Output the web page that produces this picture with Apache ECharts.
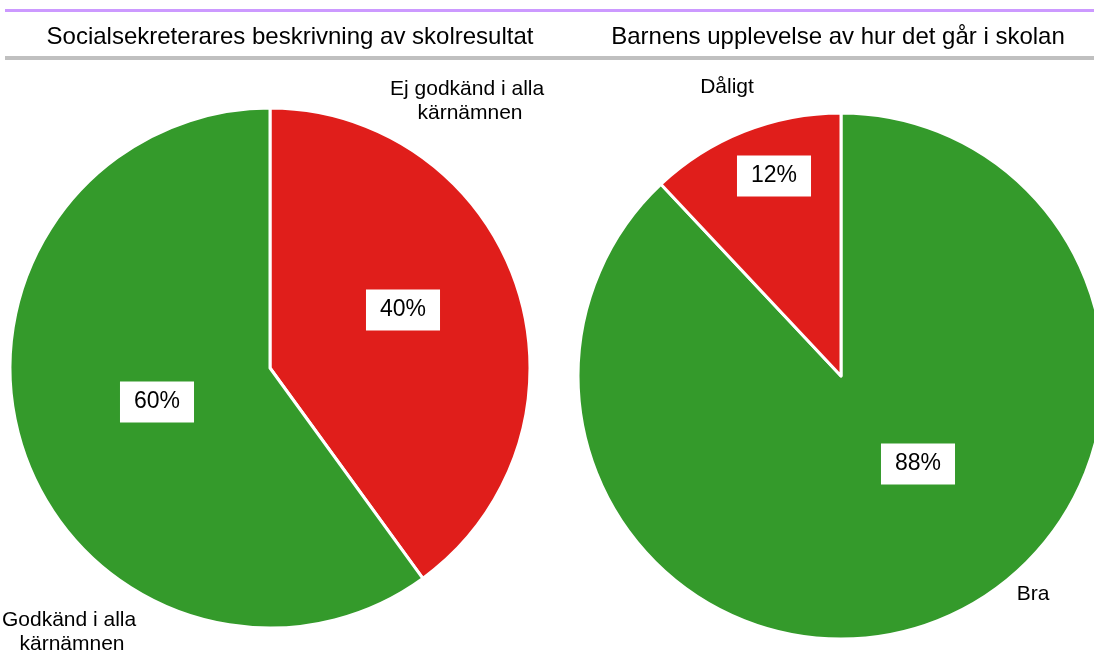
<!DOCTYPE html>
<html>
<head>
<meta charset="utf-8">
<script src="https://cdn.jsdelivr.net/npm/echarts@6/dist/echarts.min.js"></script>
<style>
html,body{margin:0;padding:0;background:#fff;}
#chart{width:1094px;height:666px;}
</style>
</head>
<body>
<div id="chart"></div>
<script>
// ---- data ----
var titles = ['Socialsekreterares beskrivning av skolresultat', 'Barnens upplevelse av hur det går i skolan'];
var leftCategories = ['Ej godkänd i alla kärnämnen', 'Godkänd i alla kärnämnen'];
var leftValues = [40, 60];
var rightCategories = ['Bra', 'Dåligt'];
var rightValues = [88, 12];

// ---- styles / layout ----
var GREEN = '#349a2b', RED = '#e01e1b';
var FONT = 'Liberation Sans, Arial, sans-serif';
var leftColors = [RED, GREEN];
var rightColors = [GREEN, RED];
var pctPos = { left: [[403, 310], [157, 402]], right: [[918, 464], [774, 176]] };
var namePos = { left: [[470, 101], [72, 632]], right: [[1033, 594], [727, 87]] };

function pieData(cats, vals, colors) {
  return cats.map(function (c, i) { return { name: c, value: vals[i], itemStyle: { color: colors[i] } }; });
}
function pctSeries(cats, vals, colors, center, r, key) {
  return {
    type: 'pie', center: center, radius: r, startAngle: 90, clockwise: true,
    avoidLabelOverlap: false, silent: true,
    itemStyle: { borderColor: '#fff', borderWidth: 3 },
    data: pieData(cats, vals, colors),
    label: {
      show: true, position: 'inside', formatter: '{c}%',
      fontFamily: FONT, fontSize: 23, color: '#000', backgroundColor: '#fff',
      padding: [10, 14, 8, 14]
    },
    labelLine: { show: false },
    labelLayout: function (p) { var q = pctPos[key][p.dataIndex]; return { x: q[0], y: q[1], align: 'center', verticalAlign: 'middle' }; }
  };
}
function nameSeries(cats, vals, center, r, key) {
  return {
    type: 'pie', center: center, radius: r, startAngle: 90, clockwise: true,
    avoidLabelOverlap: false, silent: true, z: 5,
    itemStyle: { color: 'rgba(0,0,0,0)', borderWidth: 0 },
    data: cats.map(function (c, i) { return { name: c, value: vals[i] }; }),
    label: {
      show: true, position: 'outside', formatter: '{b}',
      fontFamily: FONT, fontSize: 21, color: '#000', lineHeight: 24,
      width: 175, overflow: 'break', align: 'center'
    },
    labelLine: { show: false },
    labelLayout: function (p) { var q = namePos[key][p.dataIndex]; return { x: q[0], y: q[1], align: 'center', verticalAlign: 'middle' }; }
  };
}

var chart = echarts.init(document.getElementById('chart'), null, { renderer: 'canvas' });
chart.setOption({
  backgroundColor: '#fff',
  animation: false,
  title: [
    { text: titles[0], left: 285, top: 20, textAlign: 'center', textStyle: { fontFamily: FONT, fontSize: 24, fontWeight: 'normal', color: '#000' } },
    { text: titles[1], left: 833, top: 20, textAlign: 'center', textStyle: { fontFamily: FONT, fontSize: 24, fontWeight: 'normal', color: '#000' } }
  ],
  graphic: [
    { type: 'rect', shape: { x: 5, y: 9, width: 1089, height: 3 }, style: { fill: '#cc99ff' }, silent: true },
    { type: 'rect', shape: { x: 5, y: 56, width: 1089, height: 4 }, style: { fill: '#c0c0c0' }, silent: true }
  ],
  series: [
    pctSeries(leftCategories, leftValues, leftColors, [270, 368], 260, 'left'),
    nameSeries(leftCategories, leftValues, [270, 368], 260, 'left'),
    pctSeries(rightCategories, rightValues, rightColors, [841, 376], 263, 'right'),
    nameSeries(rightCategories, rightValues, [841, 376], 263, 'right')
  ]
});
</script>
</body>
</html>
